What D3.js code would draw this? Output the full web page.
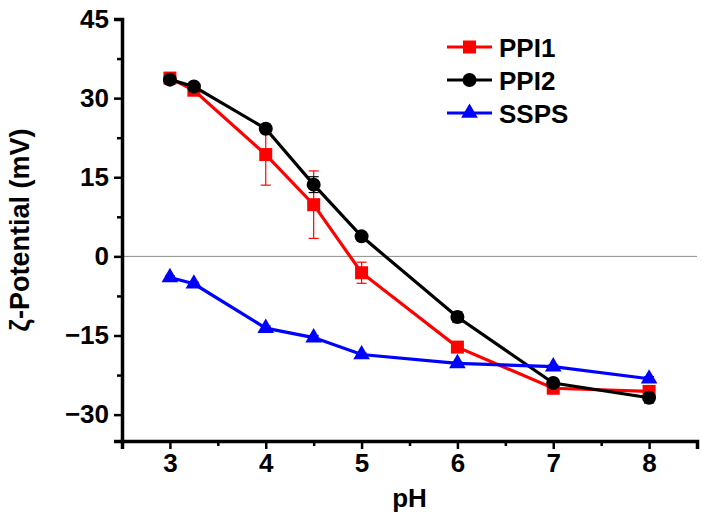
<!DOCTYPE html>
<html>
<head>
<meta charset="utf-8">
<script src="https://cdn.jsdelivr.net/npm/d3@7"></script>
<style>
html,body{margin:0;padding:0;background:#fff;}
svg text{font-family:"Liberation Sans",Arial,sans-serif;font-weight:bold;}
</style>
</head>
<body>
<svg id="chart" width="702" height="521"></svg>
<script>
const pH = [3, 3.25, 4, 4.5, 5, 6, 7, 8];
const ppi1 = [33.8, 31.5, 19.3, 9.8, -3.1, -17.2, -25.0, -25.6];
const ppi1Err = [0.6, 0.5, 5.8, 6.4, 2.0, 0.6, 0.8, 0.8];
const ppi2 = [33.5, 32.2, 24.2, 13.6, 3.8, -11.5, -24.0, -26.8];
const ppi2Err = [0.5, 0.5, 0.6, 1.5, 0.4, 1.0, 0.6, 1.0];
const ssps = [-4.0, -5.2, -13.6, -15.4, -18.6, -20.3, -20.9, -23.2];
const sspsErr = [0.3, 0.3, 0.4, 0.4, 0.3, 0.3, 0.3, 0.4];
const xTicks = [3, 4, 5, 6, 7, 8];
const yTicks = [-30, -15, 0, 15, 30, 45];
const seriesNames = ["PPI1", "PPI2", "SSPS"];
const seriesColors = ["#ff0000", "#000000", "#0000ff"];

const svg = d3.select("#chart");
const x = d3.scaleLinear().domain([2.5, 8.5]).range([122, 697]);
const y = d3.scaleLinear().domain([-35, 45]).range([441, 19]);

// zero line
svg.append("line").attr("x1", x(2.5)).attr("x2", x(8.5)).attr("y1", y(0)).attr("y2", y(0))
  .attr("stroke", "#8c8c8c").attr("stroke-width", 1);

// axes
const xAxis = svg.append("g").attr("transform", `translate(0,${y(-35)})`)
  .call(d3.axisBottom(x).tickValues(xTicks).tickFormat(d3.format("d")).tickSize(8).tickPadding(5));
const xMinor = svg.append("g").attr("transform", `translate(0,${y(-35)})`)
  .call(d3.axisBottom(x).tickValues([2.5, 3.5, 4.5, 5.5, 6.5, 7.5, 8.5]).tickFormat("").tickSize(5));
const yAxis = svg.append("g").attr("transform", `translate(${x(2.5)},0)`)
  .call(d3.axisLeft(y).tickValues(yTicks).tickFormat(d3.format("d")).tickSize(8).tickPadding(5));
const yMinor = svg.append("g").attr("transform", `translate(${x(2.5)},0)`)
  .call(d3.axisLeft(y).tickValues([-22.5, -7.5, 7.5, 22.5, 37.5]).tickFormat("").tickSize(5));

[xAxis, xMinor, yAxis, yMinor].forEach(g => {
  g.select(".domain").attr("stroke", "#000").attr("stroke-width", 3.5);
  g.selectAll(".tick line").attr("stroke", "#000").attr("stroke-width", 2.5);
  g.selectAll(".tick text").attr("fill", "#000").style("font-size", "26px")
    .style("font-family", "'Liberation Sans',Arial,sans-serif").style("font-weight", "bold");
});
xMinor.select(".domain").remove();
yMinor.select(".domain").remove();

// axis titles
svg.append("text").attr("x", (x(2.5) + x(8.5)) / 2).attr("y", 507).attr("text-anchor", "middle")
  .style("font-size", "26px").text("pH");
svg.append("text").attr("transform", `translate(29,${(y(45) + y(-35)) / 2}) rotate(-90)`)
  .attr("text-anchor", "middle").style("font-size", "27px").text("ζ-Potential (mV)");

const series = [
  {vals: ppi1, err: ppi1Err},
  {vals: ppi2, err: ppi2Err},
  {vals: ssps, err: sspsErr}
];

const line = d3.line().x(d => x(d[0])).y(d => y(d[1]));

function drawMarker(g, i, cx, cy) {
  if (i === 0) {
    g.append("rect").attr("x", cx - 6.5).attr("y", cy - 6.5).attr("width", 13).attr("height", 13).attr("fill", seriesColors[i]);
  } else if (i === 1) {
    g.append("circle").attr("cx", cx).attr("cy", cy).attr("r", 7).attr("fill", seriesColors[i]);
  } else {
    g.append("path").attr("d", d3.symbol().type(d3.symbolTriangle).size(120)()).attr("transform", `translate(${cx},${cy})`).attr("fill", seriesColors[i]);
  }
}

series.forEach((s, i) => {
  const g = svg.append("g");
  const pts = pH.map((p, k) => [p, s.vals[k]]);
  g.append("path").attr("d", line(pts)).attr("fill", "none").attr("stroke", seriesColors[i]).attr("stroke-width", 3.2);
  // error bars
  pH.forEach((p, k) => {
    const cx = x(p), y1 = y(s.vals[k] + s.err[k]), y2 = y(s.vals[k] - s.err[k]);
    g.append("line").attr("x1", cx).attr("x2", cx).attr("y1", y1).attr("y2", y2).attr("stroke", seriesColors[i]).attr("stroke-width", 1.2);
    [y1, y2].forEach(yy => g.append("line").attr("x1", cx - 5).attr("x2", cx + 5).attr("y1", yy).attr("y2", yy).attr("stroke", seriesColors[i]).attr("stroke-width", 1.2));
  });
  pH.forEach((p, k) => drawMarker(g, i, x(p), y(s.vals[k])));
});

// legend
const leg = svg.append("g");
seriesNames.forEach((name, i) => {
  const ly = 47 + i * 33;
  leg.append("line").attr("x1", 447).attr("x2", 492).attr("y1", ly).attr("y2", ly).attr("stroke", seriesColors[i]).attr("stroke-width", 3.2);
  drawMarker(leg, i, 469.5, ly);
  leg.append("text").attr("x", 499).attr("y", ly + 9.5).style("font-size", "26px").text(name);
});
</script>
</body>
</html>
